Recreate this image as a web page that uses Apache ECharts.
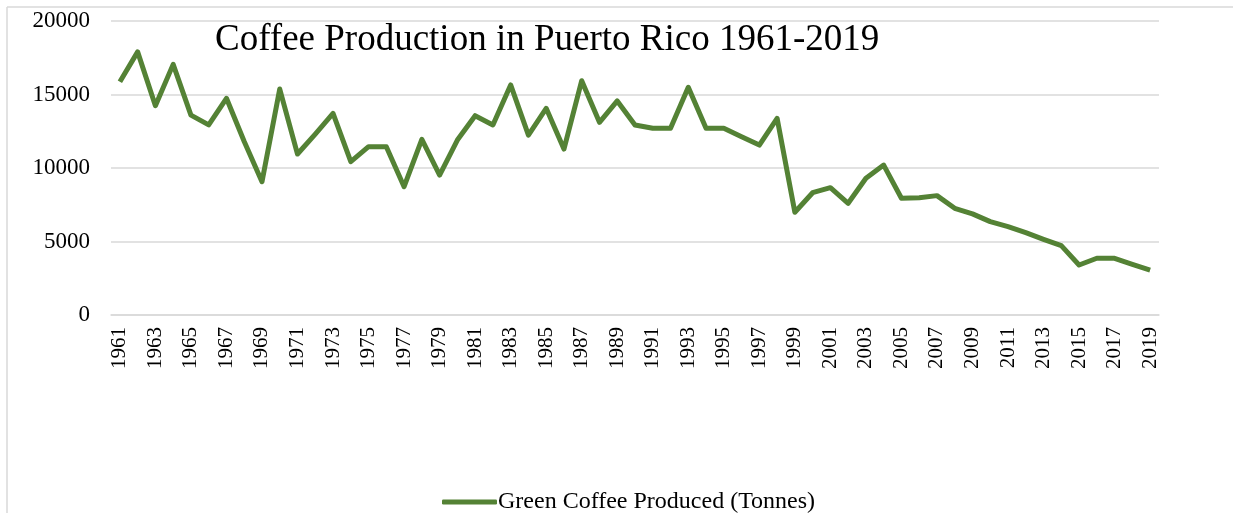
<!DOCTYPE html>
<html>
<head>
<meta charset="utf-8">
<script src="https://cdn.jsdelivr.net/npm/echarts@6/dist/echarts.min.js"></script>
<style>
  html, body { margin: 0; padding: 0; background: #fff; }
  #container { width: 1233px; height: 513px; }
</style>
</head>
<body>
<div id="container"></div>
<script>
// years 1961-2019
var years = [];
for (var y = 1961; y <= 2019; y++) years.push(String(y));

// green coffee produced (tonnes)
var production = [
  15870, 17900, 14240, 17050, 13600, 12930, 14740, 11800, 9070, 15370,
  10950, 12310, 13720, 10430, 11450, 11450, 8730, 11950, 9520, 11900,
  13560, 12930, 15650, 12240, 14060, 11290, 15940, 13110, 14560, 12930,
  12700, 12700, 15490, 12700, 12700, 12130, 11560, 13380, 6990, 8320,
  8660, 7600, 9300, 10200, 7940, 7980, 8120, 7260, 6880, 6350,
  6010, 5600, 5150, 4720, 3400, 3860, 3860, 3450, 3060
];

var seriesName = 'Green Coffee Produced (Tonnes)';
var titleText = 'Coffee Production in Puerto Rico 1961-2019';

var dom = document.getElementById('container');
var myChart = echarts.init(dom);
var font = '"Liberation Serif", "Times New Roman", serif';

var option = {
  backgroundColor: '#fff',
  animation: false,
  title: {
    text: titleText,
    left: 210,
    top: 17,
    textStyle: { fontFamily: font, fontSize: 37, fontWeight: 'normal', color: '#000' }
  },
  // border of the chart box (only top and left fall inside the picture)
  graphic: [
    { type: 'line', shape: { x1: 7, y1: 7, x2: 1233, y2: 7 }, style: { stroke: '#d9d9d9', lineWidth: 1.5 } },
    { type: 'line', shape: { x1: 7, y1: 7, x2: 7, y2: 513 }, style: { stroke: '#d9d9d9', lineWidth: 1.5 } }
  ],
  legend: {
    top: 485,
    left: 437,
    icon: 'roundRect',
    itemWidth: 55,
    itemHeight: 5,
    itemGap: 4,
    textStyle: { fontFamily: font, fontSize: 24, color: '#000', padding: [0, 0, 0, -4] },
    data: [seriesName]
  },
  grid: { left: 111, right: 74, top: 21, bottom: 198 },
  xAxis: {
    type: 'category',
    data: years,
    boundaryGap: true,
    axisLine: { lineStyle: { color: '#d9d9d9', width: 1.5 } },
    axisTick: { show: false },
    axisLabel: {
      interval: 1,
      rotate: 90,
      margin: 12,
      fontFamily: font,
      fontSize: 21,
      color: '#000'
    }
  },
  yAxis: {
    type: 'value',
    min: 0,
    max: 20000,
    interval: 5000,
    axisLine: { show: false },
    axisTick: { show: false },
    splitLine: { lineStyle: { color: '#d9d9d9', width: 1.5 } },
    axisLabel: {
      margin: 21,
      fontFamily: font,
      fontSize: 23,
      color: '#000',
      formatter: function (v) { return String(v); }
    }
  },
  series: [
    {
      name: seriesName,
      type: 'line',
      data: production,
      symbol: 'none',
      lineStyle: { color: '#548235', width: 5, join: 'round' },
      itemStyle: { color: '#548235' }
    }
  ]
};
myChart.setOption(option, true);
</script>
</body>
</html>
